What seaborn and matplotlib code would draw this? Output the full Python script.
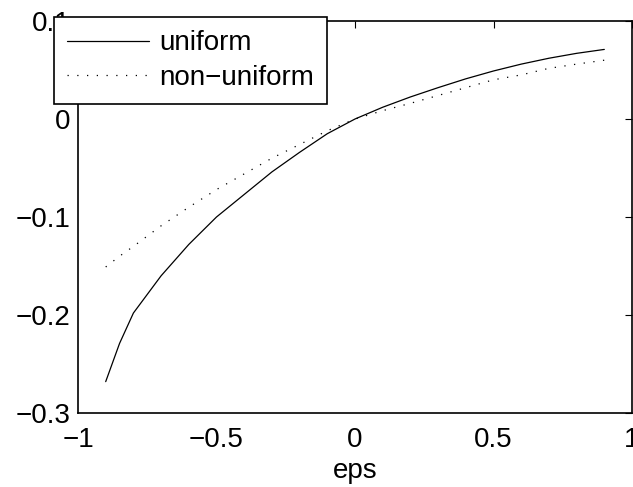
import matplotlib
matplotlib.use("Agg")
import matplotlib.pyplot as plt
import seaborn as sns
import numpy as np
import pandas as pd

eps = [-0.9, -0.85, -0.8, -0.7, -0.6, -0.5, -0.4, -0.3, -0.2, -0.1, 0.0,
       0.1, 0.2, 0.3, 0.4, 0.5, 0.6, 0.7, 0.8, 0.9]
uniform = [-0.268, -0.229, -0.198, -0.160, -0.128, -0.100, -0.077, -0.054, -0.034, -0.015, 0.000,
           0.012, 0.0225, 0.032, 0.041, 0.049, 0.056, 0.062, 0.067, 0.071]
non_uniform = [-0.151, -0.140, -0.130, -0.109, -0.090, -0.072, -0.056, -0.040, -0.026, -0.012, 0.000,
               0.0085, 0.016, 0.024, 0.032, 0.040, 0.045, 0.0517, 0.056, 0.060]
labels = ["uniform", "non\u2212uniform"]
xticks = [-1, -0.5, 0, 0.5, 1]
xticklabels = ["\u22121", "\u22120.5", "0", "0.5", "1"]
yticks = [-0.3, -0.2, -0.1, 0, 0.1]
yticklabels = ["\u22120.3", "\u22120.2", "\u22120.1", "0", "0.1"]

sns.set_theme(style="white")
plt.rcParams["font.family"] = ["Liberation Sans", "DejaVu Sans"]
plt.rcParams["text.color"] = "black"
plt.rcParams["axes.labelcolor"] = "black"

FS = 20
fig = plt.figure(figsize=(6.33, 4.87), dpi=100)
ax = fig.add_axes([78 / 633, 74 / 487, (632 - 78) / 633, (413 - 21) / 487])

df = pd.DataFrame({"eps": eps, "uniform": uniform, "non_uniform": non_uniform})
sns.lineplot(data=df, x="eps", y="uniform", ax=ax, color="black", lw=0.9, label=labels[0])
sns.lineplot(data=df, x="eps", y="non_uniform", ax=ax, color="black", lw=0.9,
             linestyle=(0, (1, 6.8)), label=labels[1])

ax.set_xlim(-1, 1)
ax.set_ylim(-0.3, 0.1)
ax.set_xticks(xticks)
ax.set_xticklabels(xticklabels)
ax.set_yticks(yticks)
ax.set_yticklabels(yticklabels)
ax.set_xlabel("eps", fontsize=FS, labelpad=3.5, color="black")
ax.set_ylabel("")
ax.tick_params(direction="in", length=5, width=0.8, labelsize=FS, top=True, right=True,
               colors="black")
ax.tick_params(axis="x", pad=10)
ax.tick_params(axis="y", pad=5.5)
for s in ax.spines.values():
    s.set_visible(True)
    s.set_color("black")
    s.set_linewidth(1.2)

h, l = ax.get_legend_handles_labels()
ax.get_legend().remove()
leg = fig.legend(h, l, loc="upper left", bbox_to_anchor=(54 / 633, 1 - 17 / 487),
                 bbox_transform=fig.transFigure, borderaxespad=0, fontsize=FS,
                 frameon=True, fancybox=False, framealpha=1, edgecolor="black",
                 handlelength=2.95, handletextpad=0.36, labelspacing=0.3,
                 borderpad=0.48)
leg.get_frame().set_linewidth(1.2)
for t in leg.get_texts():
    t.set_color("black")

fig.savefig("out.png", dpi=100)
